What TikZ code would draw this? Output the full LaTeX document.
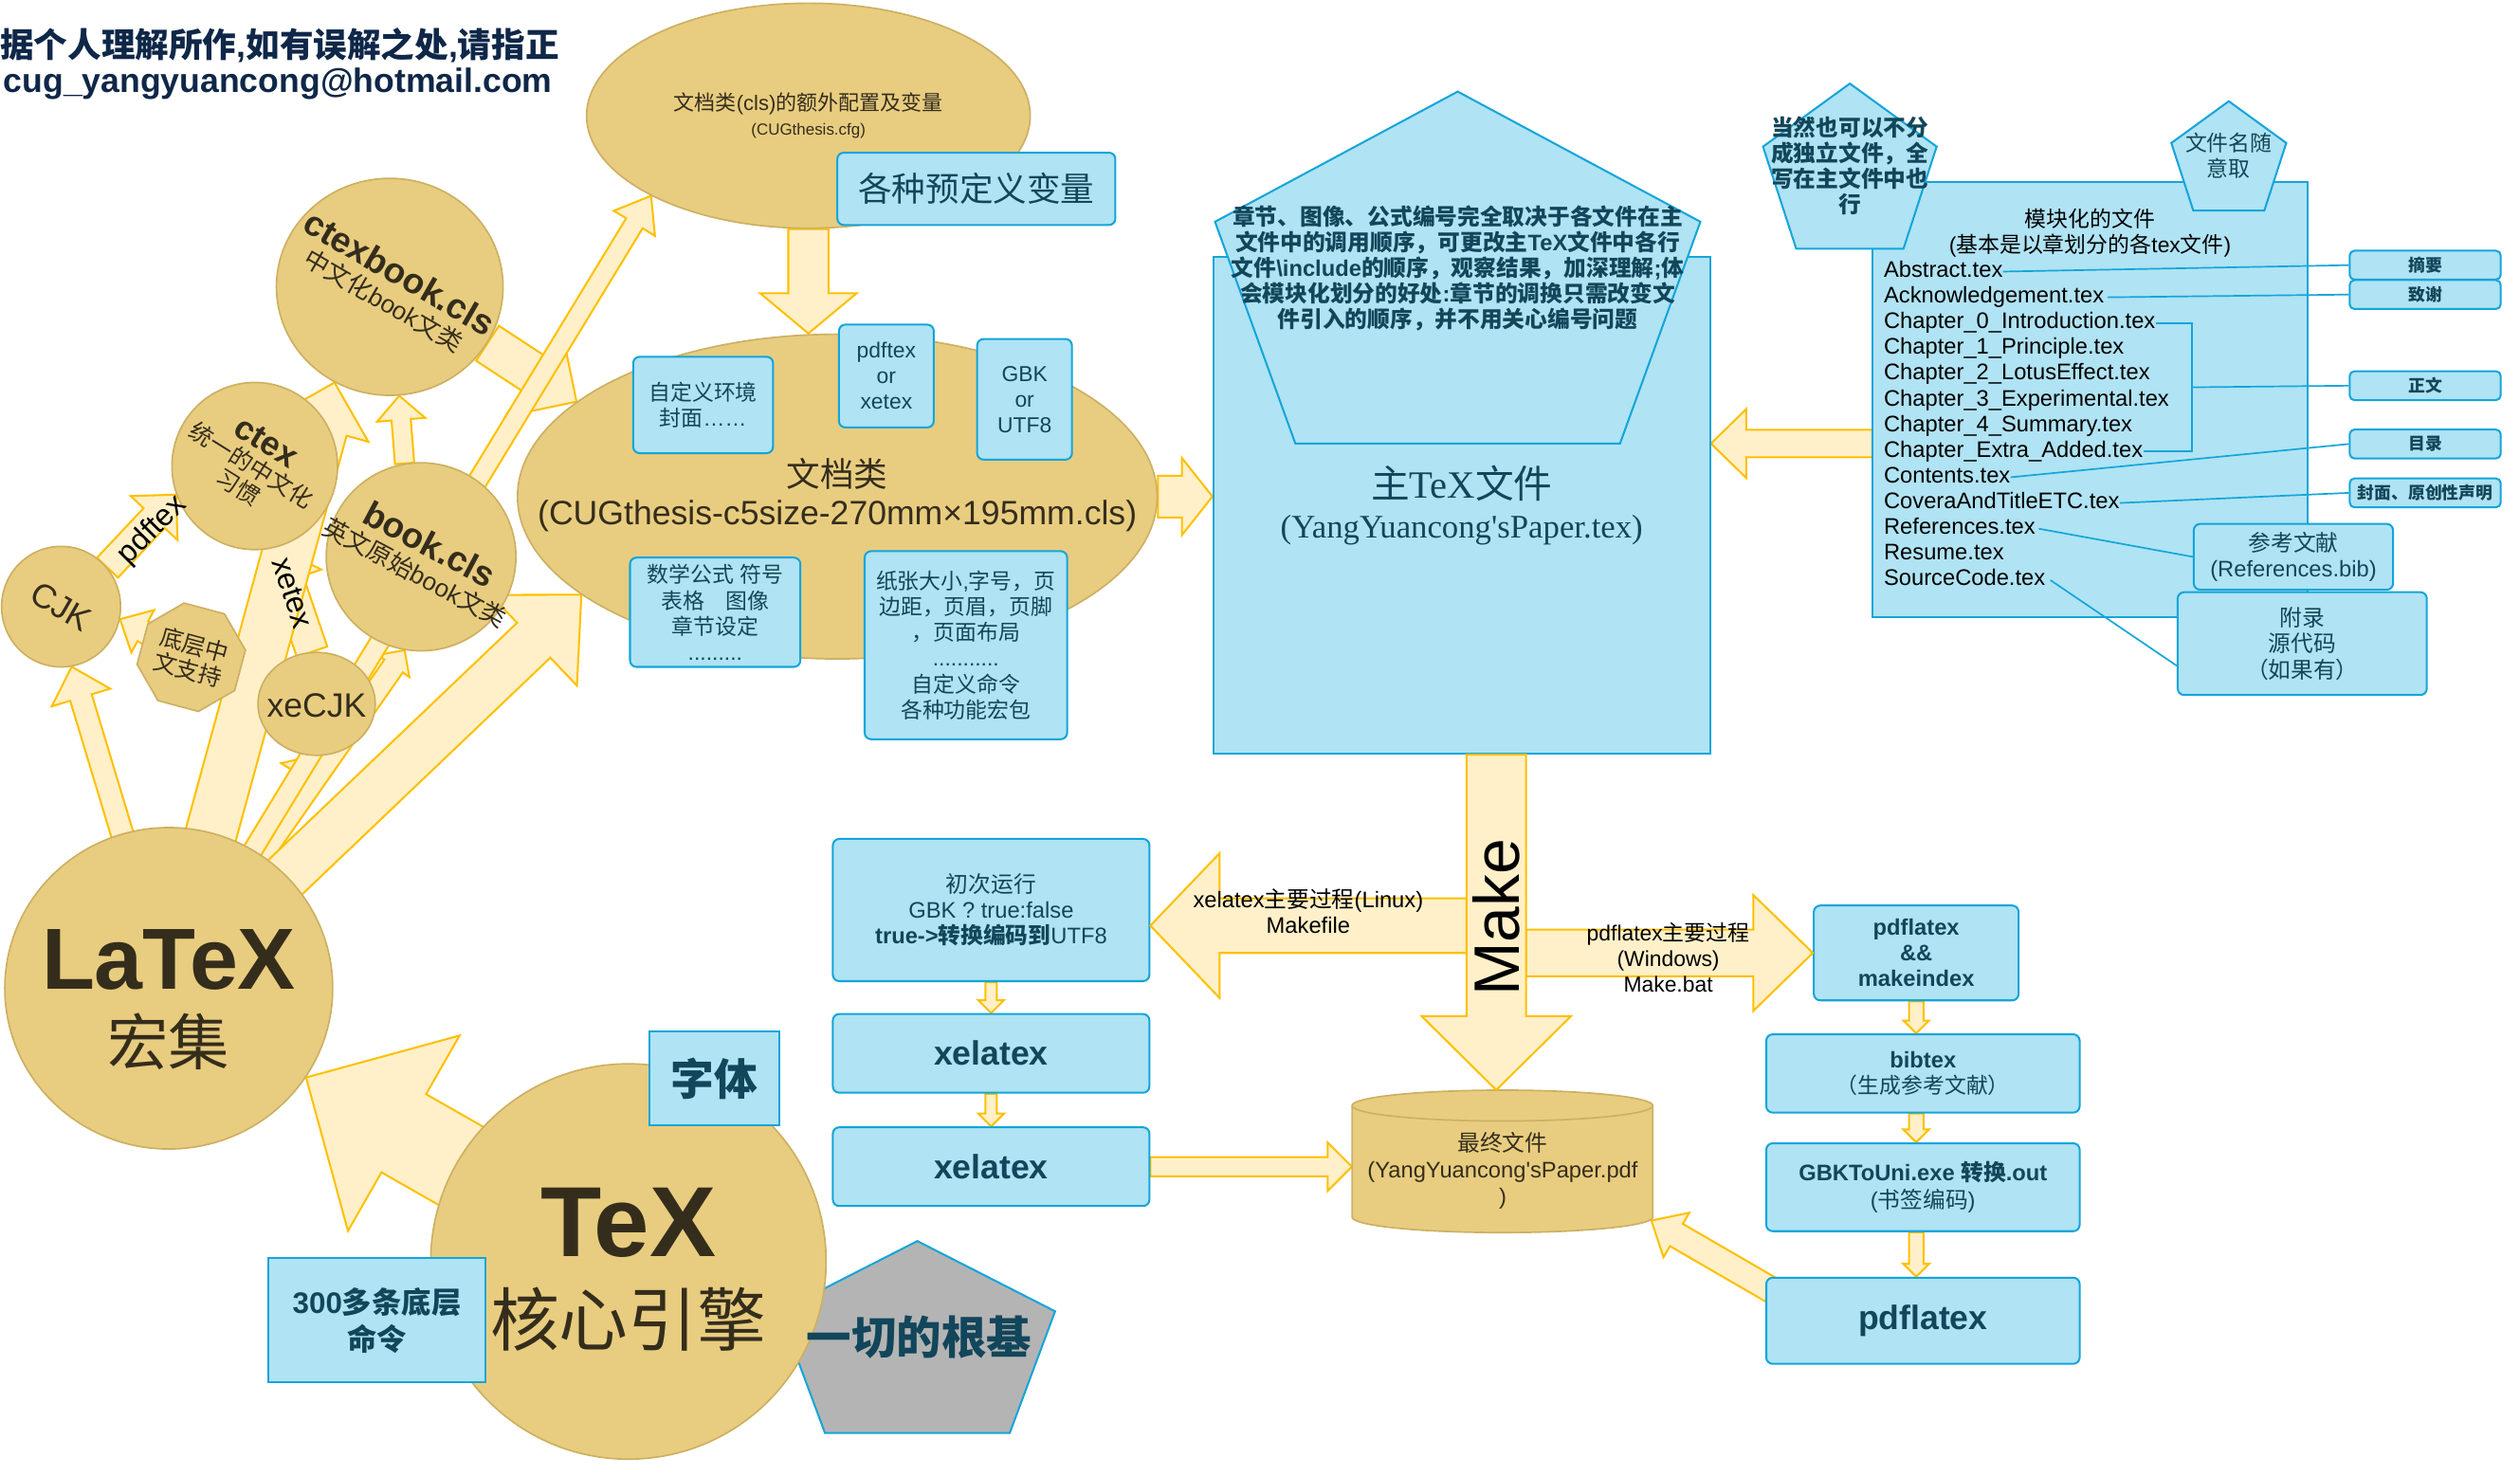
\documentclass[tikz,border=0pt]{standalone}
\usepackage{fontspec}
\setmainfont{Liberation Sans}
\newfontfamily\cjkfont{Noto Sans CJK SC}
\newfontfamily\timesfont{Liberation Serif}
\usetikzlibrary{calc,shapes.geometric,backgrounds}

\definecolor{goldfill}{HTML}{E8CD80}
\definecolor{goldedge}{HTML}{CDB062}
\definecolor{goldink}{HTML}{352D1C}
\definecolor{creamfill}{HTML}{FFF0C9}
\definecolor{creamedge}{HTML}{FFC000}
\definecolor{bluefill}{HTML}{B0E3F3}
\definecolor{blueedge}{HTML}{14A5DA}
\definecolor{blueink}{HTML}{12465A}
\definecolor{titleink}{HTML}{0F2748}
\definecolor{rootfill}{HTML}{B4B4B4}

% Chinese characters switch to the CJK font by themselves
\XeTeXinterchartokenstate=1
\newXeTeXintercharclass\cjkclass
\newcount\cjkcode
\newcommand\cjkrange[2]{%
  \cjkcode=#1\relax
  \loop
    \XeTeXcharclass\cjkcode=\cjkclass
    \ifnum\cjkcode<#2\relax
    \advance\cjkcode by 1
  \repeat}
\cjkrange{"3000}{"303F}
\cjkrange{"4E00}{"9FFF}
\cjkrange{"FF00}{"FFEF}
\XeTeXcharclass"2026=0
\XeTeXcharclass"00D7=0
\makeatletter
\def\prevfam{\rmdefault}
\newcommand\tocjk{\let\prevfam\f@family\cjkfont}
\newcommand\fromcjk{\fontfamily{\prevfam}\selectfont}
\makeatother
\XeTeXinterchartoks 0 \cjkclass = {\tocjk}
\XeTeXinterchartoks 4095 \cjkclass = {\tocjk}
\XeTeXinterchartoks \cjkclass 0 = {\fromcjk}
\XeTeXinterchartoks \cjkclass 4095 = {\fromcjk}

\newcommand\fsz[2]{\fontsize{#1}{#2}\selectfont}

% fat arrow: [style]{tail}{tip}{half shaft}{half head}{head length}
\newcommand\fatarrow[6][]{%
  \coordinate (headbase) at ($(#3)!#6!(#2)$);
  \draw[fat,#1] ($(#2)!#4!90:(#3)$) -- ($(headbase)!#4!90:(#3)$)
    -- ($(headbase)!#5!90:(#3)$) -- (#3) -- ($(headbase)!#5!-90:(#3)$)
    -- ($(headbase)!#4!-90:(#3)$) -- ($(#2)!#4!-90:(#3)$) -- cycle;}

\begin{document}
\begin{tikzpicture}[x=1pt, y=-1pt,
    goldball/.style={ellipse, draw=goldedge, fill=goldfill, line width=1pt, inner sep=0pt},
    goldtext/.style={text=goldink, align=center, inner sep=0pt},
    bluebox/.style={rectangle, rounded corners=4pt, draw=blueedge, fill=bluefill, line width=1.2pt, text=blueink, align=center, inner sep=0pt},
    sharpbox/.style={bluebox, sharp corners},
    note/.style={draw=blueedge, fill=bluefill, line width=1.2pt},
    tag/.style={bluebox, rounded corners=3pt, minimum width=94, minimum height=18, font=\bfseries\fsz{10.5}{12}},
    filename/.style={anchor=west, inner sep=0pt, text height=10pt, text depth=3pt, font=\fsz{14}{16}},
    fat/.style={fill=creamfill, draw=creamedge, line width=1.2pt},
    link/.style={draw=blueedge, line width=1pt},
  ]
  \useasboundingbox (0,0) rectangle (1568,918);
  \begin{scope}[on background layer]
    \fill[white] (0,0) rectangle (1568,918);
  \end{scope}

  % remark at the top
  \node[anchor=west, inner sep=0pt, text=titleink, font=\bfseries\fsz{21}{24}] (remark) at (0,28) {据个人理解所作,如有误解之处,请指正};
  \node[anchor=west, inner sep=0pt, text=titleink, font=\bfseries\fsz{21}{24}] (email) at (2,52) {cug\_yangyuancong@hotmail.com};

  % document class
  \node[goldball, minimum width=276, minimum height=140, text=goldink, align=center, font=\fsz{13}{15}] (cfg) at (503,72) {文档类(cls)的额外配置及变量\\{\fsz{10}{12}(CUGthesis.cfg)}};
  \node[bluebox, minimum width=173, minimum height=45, font=\fsz{21}{24}] (vars) at (607.5,117.5) {各种预定义变量};
  \node[goldball, minimum width=398, minimum height=202] (cls) at (521,309) {};
  \node[goldtext, font=\fsz{21}{24}] (clstext) at (521,308) {文档类\\(CUGthesis-c5size-270mm×195mm.cls)};
  \node[bluebox, minimum width=87, minimum height=60, font=\fsz{13.5}{16}] (envbox) at (437.5,252) {自定义环境\\封面……};
  \node[bluebox, minimum width=59, minimum height=64, font=\fsz{13.5}{16}] (engbox) at (551.5,234) {pdftex\\or\\xetex};
  \node[bluebox, minimum width=59, minimum height=75, font=\fsz{13.5}{16}] (encbox) at (637.5,248.5) {GBK\\or\\UTF8};
  \node[bluebox, minimum width=106, minimum height=68, font=\fsz{13.5}{16}] (mathbox) at (445,381) {数学公式 符号\\表格\quad 图像\\章节设定\\.........};
  \node[bluebox, minimum width=126, minimum height=117, font=\fsz{13.5}{16}] (pagebox) at (601,401.5) {纸张大小,字号，页\\边距，页眉，页脚\\，页面布局\\...........\\自定义命令\\各种功能宏包};

  % main tex file
  \node[sharpbox, minimum width=309, minimum height=309, font=\timesfont\fsz{20.5}{25}] (main) at (909.5,314.5) {{\fsz{24}{25}主TeX文件}\\(YangYuancong\textquotesingle sPaper.tex)};
  \draw[note] (907,57) -- (1058,138) -- (1008,276) -- (806,276) -- (756,138) -- cycle;
  \node[align=center, text=blueink, font=\bfseries\fsz{14}{16}] (ordernote) at (907,167) {章节、图像、公式编号完全取决于各文件在主\\文件中的调用顺序，可更改主TeX文件中各行\\文件\textbackslash include的顺序，观察结果，加深理解;体\\会模块化划分的好处:章节的调换只需改变文\\件引入的顺序，并不用关心编号问题};

  % modular files
  \node[sharpbox, minimum width=271, minimum height=271] (modular) at (1300.5,248.5) {};
  \node[regular polygon, regular polygon sides=5, minimum size=113.6, inner sep=0pt, note] (alsook) at (1151,108.8) {};
  \node[align=center, text=blueink, font=\bfseries\fsz{14}{16}] (alsooktext) at (1151,103) {当然也可以不分\\成独立文件，全\\写在主文件中也\\行};
  \node[regular polygon, regular polygon sides=5, minimum size=75.2, inner sep=0pt, note] (freename) at (1386.8,100.6) {};
  \node[align=center, text=blueink, font=\fsz{13.5}{15.5}] (freenametext) at (1386.8,96.8) {文件名随\\意取};
  \node[align=center, font=\fsz{13.5}{15.5}] (modtitle) at (1300.5,145) {模块化的文件\\(基本是以章划分的各tex文件)};
  \foreach \fname/\ftext [count=\i from 0] in {abs/Abstract.tex, ack/Acknowledgement.tex,
      ch0/Chapter\_0\_Introduction.tex, ch1/Chapter\_1\_Principle.tex, ch2/Chapter\_2\_LotusEffect.tex,
      ch3/Chapter\_3\_Experimental.tex, ch4/Chapter\_4\_Summary.tex, chx/Chapter\_Extra\_Added.tex,
      toc/Contents.tex, cov/CoveraAndTitleETC.tex, ref/References.tex, res/Resume.tex, src/SourceCode.tex}
    \node[filename] (\fname) at (1172,169+16*\i) {\ftext};
  \node[tag] (tagabs) at (1509,165) {摘要};
  \node[tag] (tagack) at (1509,183.3) {致谢};
  \node[tag] (tagbody) at (1509,240) {正文};
  \node[tag] (tagtoc) at (1509,276.3) {目录};
  \node[tag] (tagcover) at (1509,306.7) {封面、原创性声明};
  \node[bluebox, minimum width=124, minimum height=41, font=\fsz{14}{16}] (bib) at (1427,346.5) {参考文献\\(References.bib)};
  \node[bluebox, minimum width=155, minimum height=64, font=\fsz{14}{16.3}] (appendix) at (1432.5,400.5) {附录\\源代码\\（如果有）};
  \coordinate (brk) at (1364,241);
  \draw[link] (abs.east) -- (tagabs.west);
  \draw[link] ([xshift=2pt]ack.east) -- (tagack.west);
  \draw[link] (ch0.east) -| (brk) |- (chx.east);
  \draw[link] (brk) -- (tagbody.west);
  \draw[link] (toc.east) -- (tagtoc.west);
  \draw[link] (cov.east) -- (tagcover.west);
  \draw[link] ([xshift=2pt]ref.east) -- (bib.west);
  \draw[link] ([xshift=3pt]src.east) -- (appendix.190);

  % left cluster
  \node[goldball, minimum width=141, minimum height=135] (ctexbook) at (242.5,178.5) {};
  \node[goldtext, rotate=-30, font=\fsz{15.5}{18}] (ctexbooktext) at (244,178) {{\bfseries\fsz{22}{24}ctexbook.cls}\\中文化book文类};
  \node[goldball, minimum width=103, minimum height=104] (ctex) at (158.5,290) {};
  \node[goldtext, rotate=-32, font=\fsz{14.5}{16}] (ctextext) at (157,289) {{\bfseries\fsz{21}{22}ctex}\\统一的中文化\\习惯};
  \node[goldball, minimum width=118, minimum height=117] (book) at (262,346.5) {};
  \node[goldtext, rotate=-28, font=\fsz{15.5}{18}] (booktext) at (263,347) {{\bfseries\fsz{22}{24}book.cls}\\英文原始book文类};
  \node[goldball, minimum width=74, minimum height=75] (cjk) at (38,377.5) {};
  \node[goldtext, rotate=-30, font=\fsz{21}{24}] (cjktext) at (38,377.5) {CJK};
  \node[goldball, minimum width=73, minimum height=64] (xecjk) at (197,438) {};
  \node[goldtext, font=\fsz{21}{24}] (xecjktext) at (197,439) {xeCJK};
  \node[goldball, regular polygon, regular polygon sides=8, minimum size=68, rotate=-15, text=goldink, align=center, font=\fsz{14.5}{16}] (lowcjk) at (119,409) {底层中\\文支持};
  \node[goldball, minimum width=204, minimum height=200] (latex) at (105,615) {};
  \node[goldtext, font=\bfseries\fsz{54}{56}] (latexword) at (105,597) {LaTeX};
  \node[goldtext, font=\fsz{38}{40}] (latexsub) at (105,648) {宏集};
  % root pentagon lies under the TeX ball
  \draw[note, fill=rootfill] (570.8,772.3) -- (656.5,816) -- (628.3,891.7) -- (513.3,891.7) -- (485.1,816) -- cycle;
  \node[goldball, minimum width=246, minimum height=246] (tex) at (391,785) {};
  \node[goldtext, font=\bfseries\fsz{62}{64}] (texword) at (391,761) {TeX};
  \node[goldtext, font=\fsz{43}{46}] (texsub) at (391,821) {核心引擎};
  \node[sharpbox, minimum width=81, minimum height=58, font=\bfseries\fsz{27}{30}] (fontbox) at (444.5,671) {字体};
  \node[sharpbox, minimum width=135, minimum height=77, font=\bfseries\fsz{18.5}{23}] (primbox) at (234.5,821.5) {300多条底层\\命令};
  \node[text=blueink, font=\bfseries\fsz{28}{30}] (roottext) at (572,832) {一切的根基};

  % build chain
  \node[bluebox, minimum width=197, minimum height=88.5, font=\fsz{14}{16}] (firstrun) at (616.7,566.3) {初次运行\\GBK ? true:false\\{\bfseries true->转换编码到}UTF8};
  \node[bluebox, minimum width=197, minimum height=49, font=\bfseries\fsz{21}{24}] (xelone) at (616.7,655.5) {xelatex};
  \node[bluebox, minimum width=197, minimum height=49, font=\bfseries\fsz{21}{24}] (xeltwo) at (616.7,726) {xelatex};
  \path[fill=goldfill, draw=goldedge, line width=1pt] (841.3,688) -- (841.3,757.4) arc[start angle=180, end angle=0, x radius=93.55, y radius=9.6] -- (1028.4,688);
  \draw[fill=goldfill, draw=goldedge, line width=1pt] (934.85,688) ellipse [x radius=93.55, y radius=9.6];
  \node[minimum width=187, minimum height=88.5, inner sep=0pt] (final) at (934.85,722.75) {};
  \node[goldtext, font=\fsz{14}{16.5}] (finaltext) at (935,728.5) {最终文件\\(YangYuancong\textquotesingle sPaper.pdf\\)};
  \node[bluebox, minimum width=127.4, minimum height=59, font=\bfseries\fsz{14}{16}] (pdfmk) at (1192.3,593) {pdflatex\\\&\&\\makeindex};
  \node[bluebox, minimum width=195, minimum height=48.7, font=\fsz{13.5}{16}] (bibtex) at (1196.5,668) {{\bfseries\fsz{14}{16}bibtex}\\（生成参考文献）};
  \node[bluebox, minimum width=195, minimum height=54.7, font=\fsz{14}{17}] (gbkuni) at (1196.5,738.8) {{\bfseries GBKToUni.exe 转换.out}\\(书签编码)};
  \node[bluebox, minimum width=195, minimum height=53.6, font=\bfseries\fsz{21}{24}] (pdfl) at (1196.5,821.9) {pdflatex};

  \coordinate (mktop) at ($(main.south)+(21.5,0)$);
  \coordinate (mkleft) at (912.5,576);
  \coordinate (mkright) at (949.5,593);
  \coordinate (modin) at (1165,276);
  \coordinate (engout) at ($(engbox.east)+(0,5)$);
  \coordinate (pdflin) at (1125,816);
  \coordinate (finalin) at (1027.5,759.5);

  \begin{scope}[on background layer]
    % LaTeX and its packages
    \fatarrow{latex}{cjk.-80}{7pt}{19pt}{20pt}
    \fatarrow{cjk.40}{ctex.200}{9pt}{20pt}{20pt}
    \fatarrow{lowcjk}{cjk.-12}{7pt}{15pt}{16pt}
    \fatarrow{lowcjk}{xecjk.170}{7pt}{15pt}{16pt}
    \fatarrow{xecjk.95}{ctex.-75}{10pt}{22pt}{22pt}
    \fatarrow{latex}{ctexbook.-120}{16pt}{30pt}{30pt}
    \fatarrow{latex}{xecjk.-95}{5pt}{14pt}{14pt}
    \fatarrow{latex}{book.-100}{7pt}{12pt}{12pt}
    \fatarrow{book.100}{ctexbook.-85}{6pt}{15pt}{15pt}
    \fatarrow{ctexbook.-30}{cls.160}{13pt}{32pt}{32pt}
    \fatarrow{latex}{cfg.207}{6pt}{15pt}{20pt}
    \fatarrow{latex}{cls.201}{15pt}{39pt}{41pt}
    \fatarrow{tex}{latex.-33}{28pt}{70pt}{70pt}
    % class to main file
    \fatarrow{cfg.south}{cls.north -| cfg.south}{12.5pt}{30pt}{25pt}
    \fatarrow{engout}{encbox.west |- engout}{5pt}{11pt}{10pt}
    \fatarrow{cls.east}{main.west |- cls.east}{13pt}{24pt}{19pt}
    \fatarrow{modin}{main.east |- modin}{8.5pt}{21.5pt}{22pt}
    % build chain
    \fatarrow{firstrun.south}{xelone.north}{3.5pt}{8pt}{8pt}
    \fatarrow{xelone.south}{xeltwo.north}{3.5pt}{8pt}{8pt}
    \fatarrow{xeltwo.east}{final.west |- xeltwo.east}{6pt}{15pt}{15pt}
    \fatarrow{pdfmk.south}{bibtex.north -| pdfmk.south}{4.5pt}{8pt}{8pt}
    \fatarrow{bibtex.south -| pdfmk.south}{gbkuni.north -| pdfmk.south}{4.5pt}{8pt}{8pt}
    \fatarrow{gbkuni.south -| pdfmk.south}{pdfl.north -| pdfmk.south}{4.5pt}{8pt}{8pt}
    \fatarrow{pdflin}{finalin}{8pt}{16pt}{18pt}
  \end{scope}

  % make
  \fatarrow{mkleft}{firstrun.east |- mkleft}{17pt}{45pt}{43pt}
  \fatarrow{mkright}{pdfmk.west |- mkright}{14.5pt}{36pt}{37pt}
  \fatarrow{mktop}{mktop |- final.north}{18.5pt}{46.5pt}{46pt}
  \node[rotate=90, font=\fsz{40}{44}] (maketext) at (931,571) {Make};
  \node[align=center, font=\fsz{14}{16}] (linuxtext) at (814,567) {xelatex主要过程(Linux)\\Makefile};
  \node[align=center, font=\fsz{13.5}{16}] (wintext) at (1038,596) {pdflatex主要过程\\(Windows)\\Make.bat};
  \node[rotate=45, font=\fsz{19}{20}] (pdftexlabel) at (95,330) {pdftex};
  \node[rotate=-72, font=\fsz{19}{20}] (xetexlabel) at (182,369) {xetex};
\end{tikzpicture}
\end{document}
